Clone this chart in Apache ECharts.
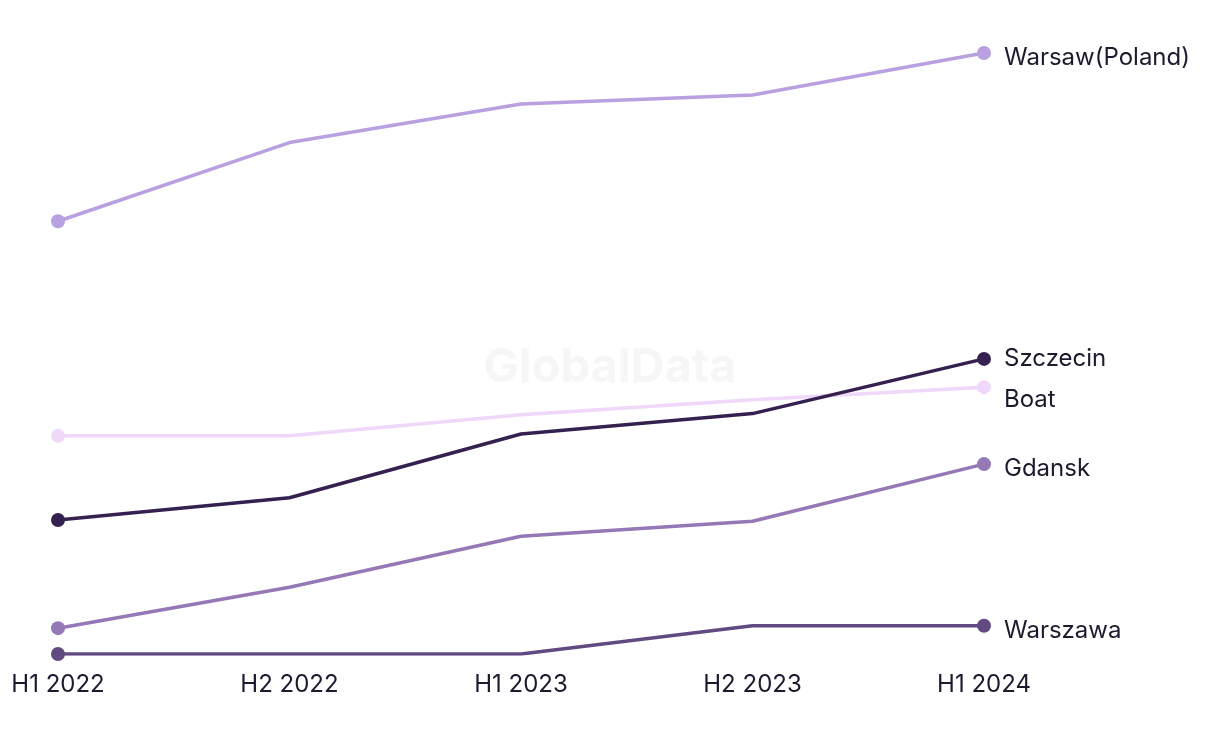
<!DOCTYPE html>
<html><head><meta charset="utf-8">
<script src="https://cdn.jsdelivr.net/npm/echarts@6/dist/echarts.min.js"></script>
<style>html,body{margin:0;padding:0;background:#fff}#c{width:1220px;height:744px}</style>
</head><body><div id="c"></div>
<script>
const categories = ['H1 2022','H2 2022','H1 2023','H2 2023','H1 2024'];
const warsawPoland = [72.0, 85.1, 91.5, 93.0, 100.0];
const szczecin = [22.3, 26.0, 36.6, 40.0, 49.1];
const boat = [36.3, 36.3, 39.8, 42.3, 44.4];
const gdansk = [4.3, 11.1, 19.6, 22.1, 31.6];
const warszawa = [0, 0, 0, 4.7, 4.7];
const seriesNames = ['Warsaw(Poland)','Szczecin','Boat','Gdansk','Warszawa'];
const seriesData = [warsawPoland, szczecin, boat, gdansk, warszawa];
const colors = ['#b9a0e0','#35214f','#f0d8fb','#9479b6','#614a82'];

const chart = echarts.init(document.getElementById('c'));
const font = 'Inter, "Noto Sans", sans-serif';
const lastIdx = categories.length - 1;
chart.setOption({
  animation: false,
  backgroundColor: '#fff',
  grid: {left: 58, right: 236, top: 53, bottom: 90},
  graphic: [{type:'text', left: 'center', top: 344, style:{text:'GlobalData', fontSize: 47, fontWeight: 'bold', fill:'#f6f6f6', fontFamily: font}, z: -1}],
  xAxis: {type:'category', data: categories, boundaryGap: false,
    axisLine:{show:false}, axisTick:{show:false}, splitLine:{show:false},
    axisLabel:{color:'#1c1a2e', fontSize: 24, margin: 19, fontFamily: font}},
  yAxis: {type:'value', min: 0, max: 100, show: false, splitLine:{show:false}},
  series: seriesNames.map((n,i)=>({
    name: n, type:'line', data: seriesData[i],
    symbol: (v, p) => (p.dataIndex === 0 || p.dataIndex === lastIdx) ? 'circle' : 'none',
    symbolSize: 14, showAllSymbol: true,
    lineStyle:{width:3.5, color: colors[i]}, itemStyle:{color: colors[i]},
    endLabel:{show:true, formatter:'{a}', color:'#1c1a2e', fontSize: 24, lineHeight: 41, distance: 20,
      offset: n === 'Szczecin' ? [0,0] : [0,5], fontFamily: font},
    labelLayout:{moveOverlap:'shiftY'},
    labelLine:{show:true, length2: 0, lineStyle:{color: colors[i]}},
    z: 10 - i
  }))
});
</script></body></html>
